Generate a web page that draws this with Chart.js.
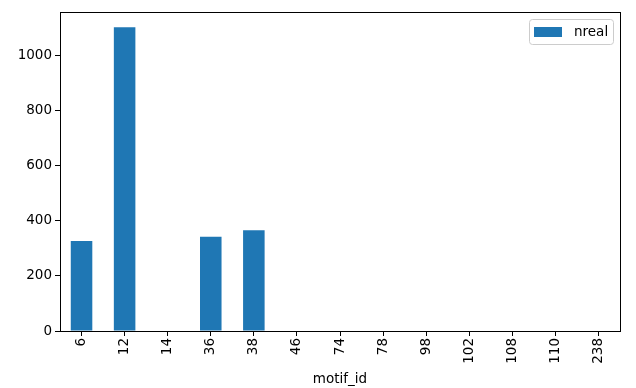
<!DOCTYPE html>
<html><head><meta charset="utf-8">
<script src="https://cdn.jsdelivr.net/npm/chart.js@4"></script>
<style>html,body{margin:0;padding:0;background:#fff}#w{width:636px;height:388px}</style>
</head><body><div id="w"><canvas id="c" width="636" height="388"></canvas></div>
<script>
const categories = ["6","12","14","36","38","46","74","78","98","102","108","110","238"];
const nreal = [327, 1104, 0, 342, 366, 0, 0, 0, 0, 0, 0, 0, 0];
const yTicks = [0, 200, 400, 600, 800, 1000];
const seriesName = "nreal";
const FONT = "DejaVu Sans";
const framePlugin = {
  id: 'frame',
  afterDraw(chart) {
    const {ctx, chartArea: a} = chart;
    ctx.save();
    ctx.strokeStyle = '#000'; ctx.lineWidth = 1;
    ctx.strokeRect(Math.round(a.left)+0.5, Math.round(a.top)+0.5, Math.round(a.right-a.left), Math.round(a.bottom-a.top));
    const ds = chart.data.datasets[0];
    const bx = 529.5, by = 19.5, bw = 84, bh = 25;
    ctx.fillStyle = 'rgba(255,255,255,0.8)';
    ctx.strokeStyle = '#cccccc';
    ctx.beginPath();
    if (ctx.roundRect) ctx.roundRect(bx, by, bw, bh, 3); else ctx.rect(bx, by, bw, bh);
    ctx.fill(); ctx.stroke();
    ctx.fillStyle = ds.backgroundColor;
    ctx.fillRect(534, 27, 28, 10);
    ctx.fillStyle = '#000';
    ctx.font = '13.5px "' + FONT + '"';
    ctx.textBaseline = 'middle';
    ctx.fillText(ds.label, 574, 32);
    ctx.restore();
  }
};
new Chart(document.getElementById('c'), {
  type: 'bar',
  data: { labels: categories, datasets: [{ label: seriesName, data: nreal, backgroundColor: '#1f77b4', borderWidth: 0, borderColor: 'rgba(0,0,0,0)', categoryPercentage: 1.0, barPercentage: 0.5 }] },
  options: {
    responsive: false, animation: false, devicePixelRatio: 1,
    layout: { padding: { top: 12, right: 16, left: 0, bottom: 0 } },
    plugins: { legend: { display: false }, tooltip: { enabled: false } },
    scales: {
      x: {
        grid: { drawOnChartArea: false, drawTicks: true, tickLength: 5, color: '#000', offset: false },
        border: { color: '#000' },
        ticks: { color: '#000', font: { family: FONT, size: 13.5 }, minRotation: 90, maxRotation: 90, padding: 2 },
        title: { display: true, text: 'motif_id', color: '#000', font: { family: FONT, size: 13.5 }, padding: { top: 3, bottom: 0 } },
        afterFit(s) { s.height = 57; }
      },
      y: {
        min: 0, max: 1159,
        grid: { drawOnChartArea: false, drawTicks: true, tickLength: 5, color: '#000' },
        border: { color: '#000' },
        ticks: { color: '#000', font: { family: FONT, size: 13.5 }, padding: 3, callback: v => String(v) },
        afterBuildTicks(s) { s.ticks = yTicks.map(v => ({ value: v })); },
        afterFit(s) { s.width = 60; }
      }
    }
  },
  plugins: [framePlugin]
});
</script></body></html>
